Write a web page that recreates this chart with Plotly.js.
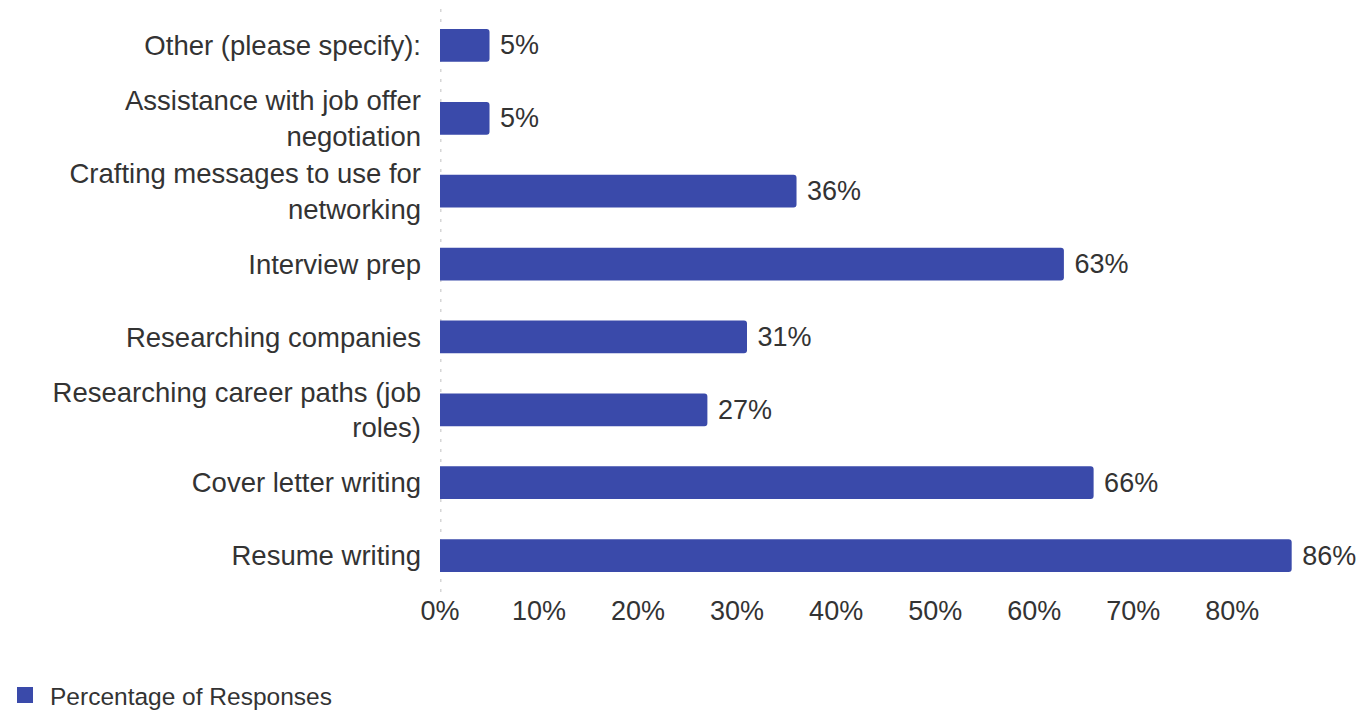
<!DOCTYPE html>
<html>
<head>
<meta charset="utf-8">
<script src="https://cdn.plot.ly/plotly-3.0.1.min.js"></script>
<style>html,body{margin:0;padding:0;background:#fff;}#chart{width:1361px;height:710px;}</style>
</head>
<body>
<div id="chart"></div>
<script>
const categories = [
  "Resume writing",
  "Cover letter writing",
  "Researching career paths (job<br>roles)",
  "Researching companies",
  "Interview prep",
  "Crafting messages to use for<br>networking",
  "Assistance with job offer<br>negotiation",
  "Other (please specify):"
];
const values = [86, 66, 27, 31, 63, 36, 5, 5];
const tickVals = [0, 10, 20, 30, 40, 50, 60, 70, 80];
const tickText = tickVals.map(v => v + "%");
const seriesName = "Percentage of Responses";

const font = "Liberation Sans, Arial, sans-serif";
const barColor = "#3a4aaa";
const trace = {
  type: "bar",
  orientation: "h",
  y: categories,
  x: values,
  name: seriesName,
  texttemplate: " %{x}%",
  textposition: "outside",
  cliponaxis: false,
  textfont: {family: font, size: 27, color: "#333333"},
  marker: {color: barColor, line: {width: 0}},
  hoverinfo: "none",
  showlegend: false
};
const legendTrace = {
  type: "scatter",
  mode: "markers",
  x: [null], y: [null],
  name: seriesName,
  marker: {symbol: "square", size: 22, color: barColor},
  hoverinfo: "none",
  showlegend: true
};
const layout = {
  width: 1361, height: 710,
  margin: {l: 440, r: 0, t: 9, b: 118},
  paper_bgcolor: "#ffffff",
  plot_bgcolor: "#ffffff",
  bargap: 0.55,
  barcornerradius: 3,
  font: {family: font, color: "#333333"},
  xaxis: {
    range: [0, 93],
    tickvals: tickVals,
    ticktext: tickText,
    showgrid: false,
    zeroline: false,
    showline: false,
    ticks: "",
    tickfont: {family: font, size: 27, color: "#333333"},
    automargin: false
  },
  yaxis: {
    showgrid: false,
    zeroline: false,
    showline: false,
    ticks: "",
    ticklabelstandoff: 18,
    tickfont: {family: font, size: 27.5, color: "#333333"},
    automargin: false
  },
  shapes: [{
    type: "line", xref: "x", yref: "paper",
    x0: 0, x1: 0, y0: 0, y1: 1,
    line: {color: "#d6d6d6", width: 3, dash: "3px,7px"},
    layer: "below"
  }],
  showlegend: true,
  legend: {
    orientation: "h",
    x: 0, xref: "container", xanchor: "left",
    y: 0.021, yref: "container", yanchor: "middle",
    font: {family: font, size: 24.5, color: "#333333"},
    itemsizing: "trace",
    itemwidth: 40
  }
};
Plotly.newPlot("chart", [trace, legendTrace], layout, {displayModeBar: false, staticPlot: true});
</script>
</body>
</html>
